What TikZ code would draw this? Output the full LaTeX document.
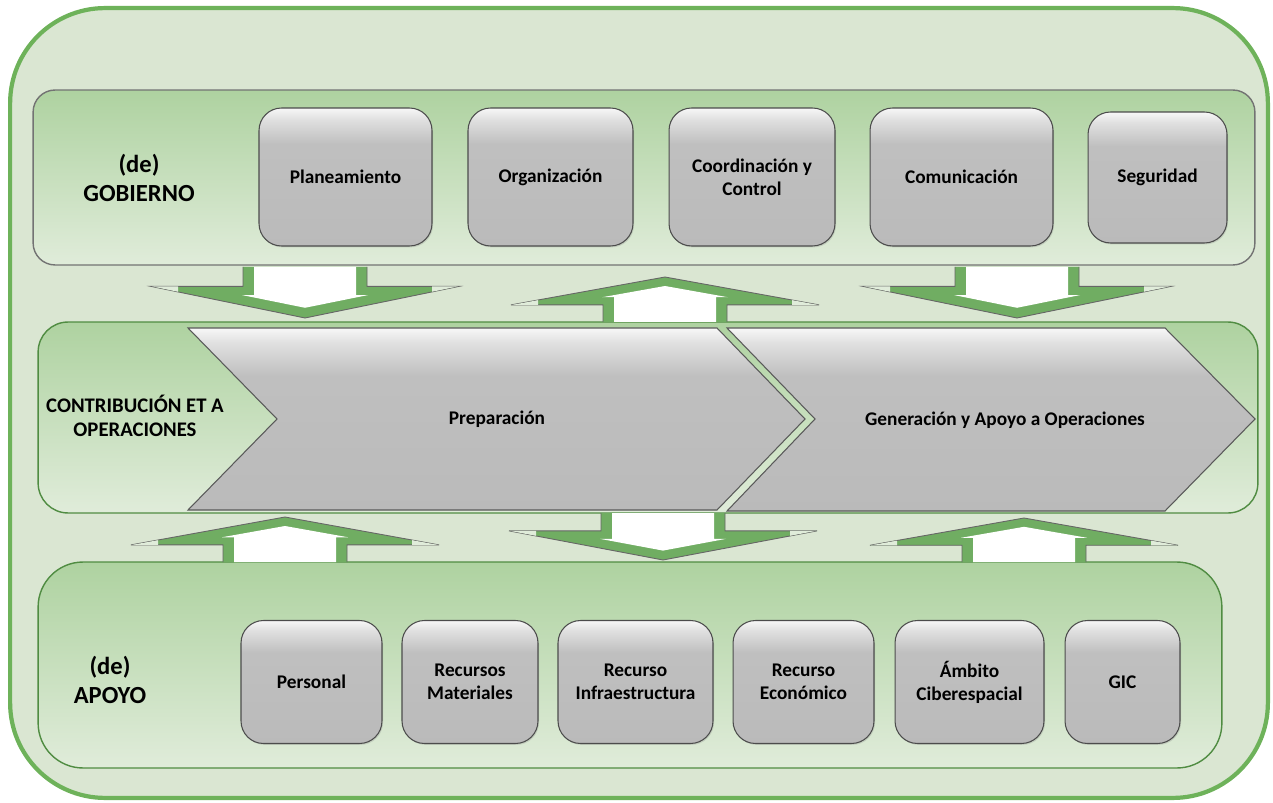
\documentclass[tikz,border=0pt]{standalone}
\usepackage{fontspec}
\setmainfont{Carlito}
\usetikzlibrary{shadows}

\definecolor{bgfill}{RGB}{218,230,210}
\definecolor{bgedge}{RGB}{110,178,90}
\definecolor{bandtop}{RGB}{174,210,160}
\definecolor{bandbot}{RGB}{224,236,218}
\definecolor{bandedge}{RGB}{80,140,66}
\definecolor{arrowgreen}{RGB}{112,173,98}
% grey with a light bevel at the top (path sits between 25bp and 75bp)
\pgfdeclareverticalshading{bevelgray}{100bp}{color(0bp)=(black!27); color(25bp)=(black!27); color(62bp)=(black!25); color(71bp)=(black!12); color(75bp)=(black!3); color(100bp)=(black!3)}

\tikzset{
  band/.style={rounded corners=#1, top color=bandtop, bottom color=bandbot, draw=bandedge, line width=0.8pt, minimum width=24.4cm},
  areatext/.style={font=\fontsize{14}{16.5}\selectfont\bfseries, align=center},
  itembox/.style={rounded corners=0.45cm, shading=bevelgray, draw=black!70, line width=0.6pt,
    font=\fontsize{11}{13}\selectfont\bfseries, align=center, inner sep=2pt,
    drop shadow={opacity=0.25, shadow xshift=0.6pt, shadow yshift=-0.8pt}},
  chevron/.style={shading=bevelgray, draw=black!65, line width=0.6pt},
  flowarrow/.style={fill=arrowgreen, draw=black!60, line width=0.5pt},
}

\begin{document}
\begin{tikzpicture}[x=0.02cm, y=-0.02cm]
    \useasboundingbox (0,0) rectangle (1273,803);
    % outer frame
    \node[rounded corners=1.9cm, fill=bgfill, draw=bgedge, line width=2.4pt,
          minimum width=25.16cm, minimum height=15.8cm] (frame) at (639,403) {};

    % the three bands
    \node[band=0.44cm, draw=black!55, minimum width=24.44cm, minimum height=3.5cm] (gobierno) at (644,177.5) {};
    \node[band=0.6cm, minimum height=3.82cm] (operaciones) at (648,417.5) {};
    \node[band=0.9cm, minimum width=23.68cm, minimum height=4.12cm] (apoyo) at (630,665) {};

    \node[areatext] (gobierno-lbl) at (139,178) {(de)\\GOBIERNO};
    \node[areatext] (apoyo-lbl) at (110,680) {(de)\\APOYO};
    \node[font=\fontsize{11.8}{13.8}\selectfont\bfseries, align=center] (operaciones-lbl) at (135,416) {CONTRIBUCIÓN ET A\\OPERACIONES};

    % block arrows between the bands: centre / start / tip
    \foreach \cx/\ys/\ye in {305/267/318, 665/322/277, 1017/267/318, 285/562/517, 663/513/560, 1024/562/518}{
        \pgfmathsetmacro{\ysh}{\ys+0.38*(\ye-\ys)}  % shoulder of the head
        \pgfmathsetmacro{\yish}{\ys+0.55*(\ye-\ys)} % inner shoulder
        \pgfmathsetmacro{\yit}{\ys+0.80*(\ye-\ys)}  % inner tip
        \pgfmathsetmacro{\yend}{\ysh+0.17*(\ye-\ysh)} % faded ends of the head
        \filldraw[flowarrow] (\cx-62,\ys) -- (\cx-62,\ysh) -- (\cx-154,\ysh) -- (\cx,\ye)
            -- (\cx+154,\ysh) -- (\cx+62,\ysh) -- (\cx+62,\ys);
        \fill[bandbot] (\cx-153,\ysh) -- (\cx-127,\ysh) -- (\cx-127,\yend) -- cycle;
        \fill[bandbot] (\cx+153,\ysh) -- (\cx+127,\ysh) -- (\cx+127,\yend) -- cycle;
        \fill[white] (\cx-51,\ys) -- (\cx-51,\yish) -- (\cx-63,\yish) -- (\cx,\yit)
            -- (\cx+63,\yish) -- (\cx+51,\yish) -- (\cx+51,\ys) -- cycle;
    }

    % governance items
    \foreach \cx/\w/\name/\txt in {345.5/3.46/plan/Planeamiento, 550.5/3.3/org/Organización,
        752/3.32/coord/{Coordinación y\\Control}, 961.5/3.66/com/Comunicación}{
        \node[itembox, minimum width=\w cm, minimum height=2.76cm] (gov-\name) at (\cx,177) {\txt};
    }
    \node[itembox, minimum width=2.78cm, minimum height=2.62cm] (gov-seg) at (1157.5,177.5) {Seguridad};

    % support items
    \foreach \cx/\w/\name/\txt in {311.5/2.82/pers/Personal, 470/2.72/mat/{Recursos\\Materiales},
        635.5/3.1/infra/{Recurso\\Infraestructura}, 803.5/2.82/eco/{Recurso\\Económico},
        969.5/2.98/ciber/{Ámbito\\Ciberespacial}, 1122.5/2.3/gic/GIC}{
        \node[itembox, minimum width=\w cm, minimum height=2.46cm] (sup-\name) at (\cx,682) {\txt};
    }

    % process chevrons
    \draw[chevron] (188,328) -- (717,328) -- (805,419) -- (717,510) -- (188,510) -- (277,419) -- cycle;
    \node[font=\fontsize{11}{13}\selectfont\bfseries] (prep) at (497,419) {Preparación};
    \draw[chevron] (727,328) -- (1165,328) -- (1255,419) -- (1165,511) -- (727,511) -- (815,419) -- cycle;
    \node[font=\fontsize{11}{13}\selectfont\bfseries] (gen) at (1005,420) {Generación y Apoyo a Operaciones};
\end{tikzpicture}
\end{document}
